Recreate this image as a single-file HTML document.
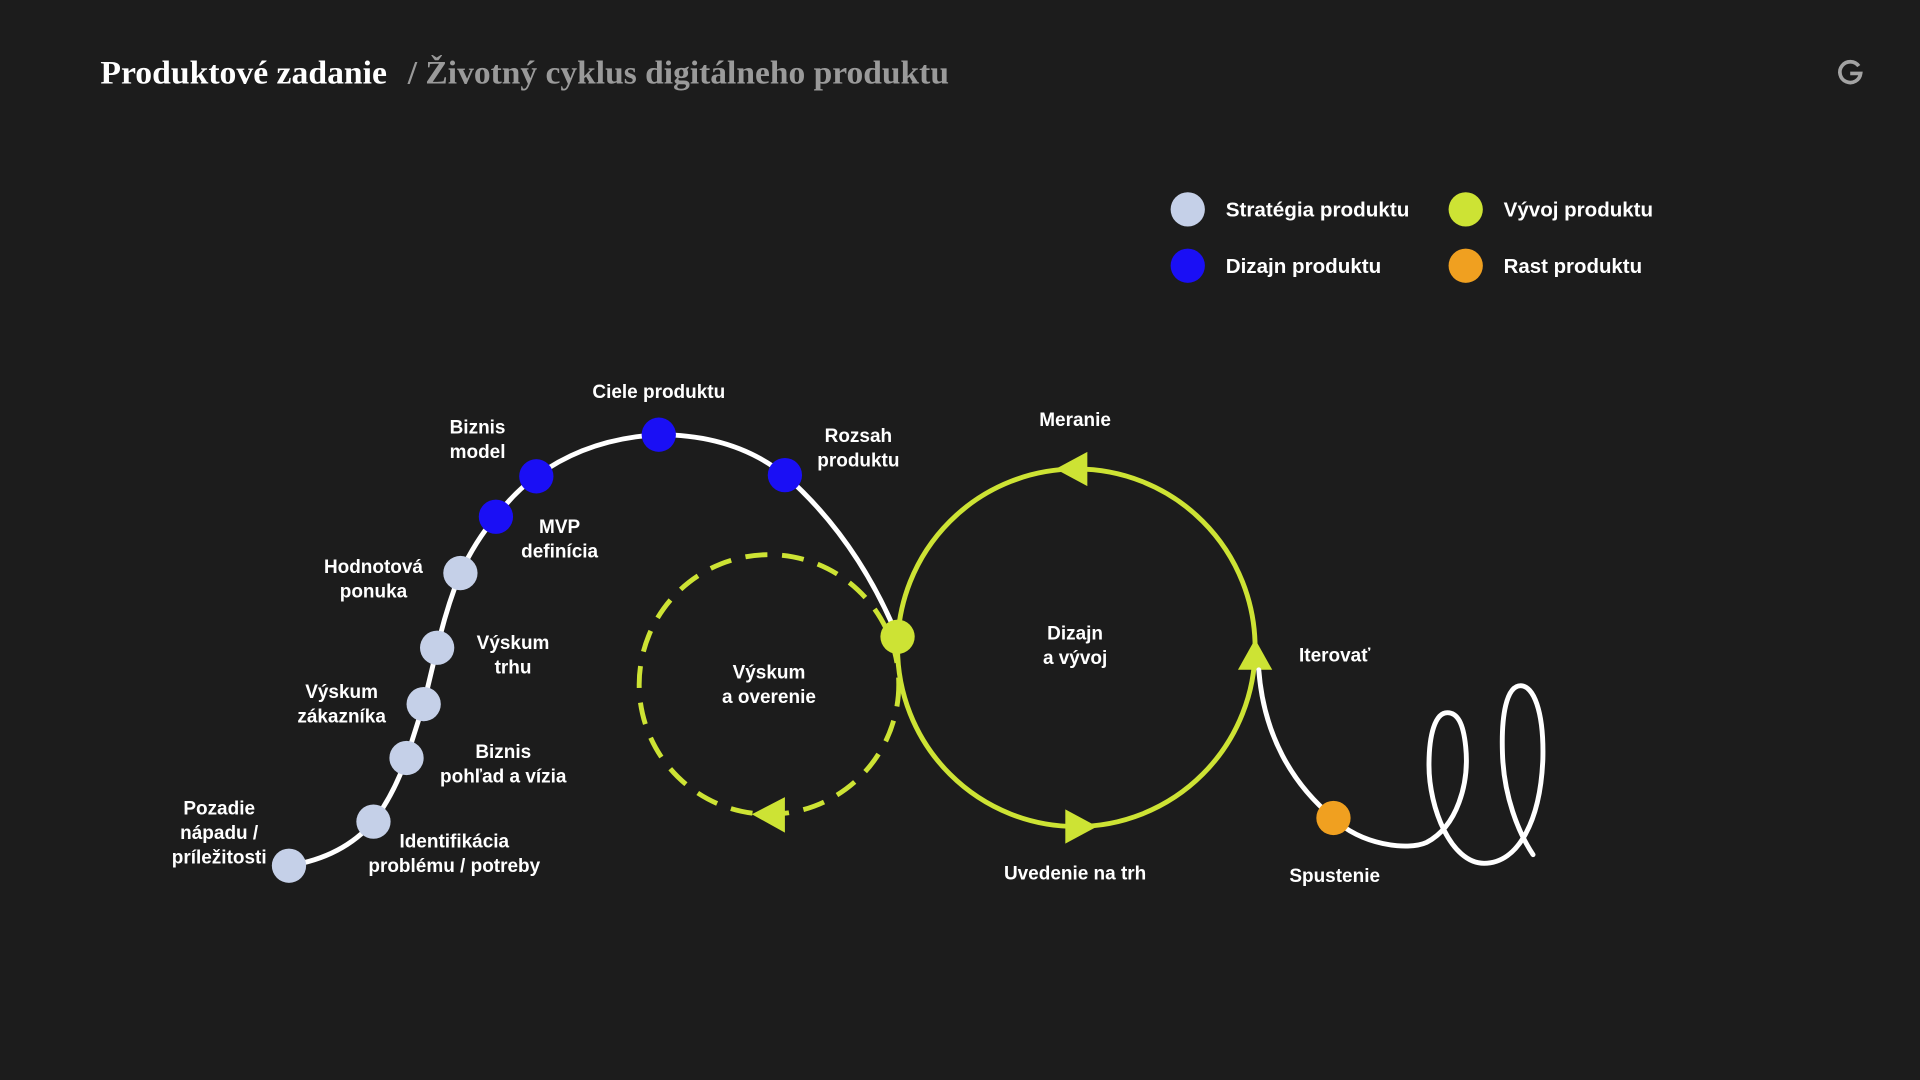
<!DOCTYPE html>
<html><head><meta charset="utf-8"><style>
html,body{margin:0;padding:0;background:#1c1c1c;}
svg{display:block;}
text{font-family:"Liberation Sans",sans-serif;font-weight:bold;fill:#fff;}
</style></head><body>
<svg width="1920" height="1080" viewBox="0 0 1568 882" xmlns="http://www.w3.org/2000/svg">
<rect width="1568" height="882" fill="#1c1c1c"/>
<text x="82" y="68" style="font-family:'Liberation Serif',serif;font-weight:bold;font-size:27px" textLength="234" lengthAdjust="spacingAndGlyphs">Produktové zadanie</text>
<text x="333" y="68" style="font-family:'Liberation Serif',serif;font-weight:bold;font-size:27px;fill:#9a9a9a" textLength="442" lengthAdjust="spacingAndGlyphs">/ Životný cyklus digitálneho produktu</text>
<path d="M1518,54 A8.5,8.5 0 1 0 1519.5,60 L1511,60" fill="none" stroke="#a3a3a3" stroke-width="3"/>

<g font-size="16.5">
<circle cx="970" cy="171" r="14" fill="#c5d0e8"/><text x="1001" y="177" textLength="150" lengthAdjust="spacingAndGlyphs">Stratégia produktu</text>
<circle cx="970" cy="217" r="14" fill="#1a0ff5"/><text x="1001" y="223" textLength="127" lengthAdjust="spacingAndGlyphs">Dizajn produktu</text>
<circle cx="1197" cy="171" r="14" fill="#cde334"/><text x="1228" y="177" textLength="122" lengthAdjust="spacingAndGlyphs">Vývoj produktu</text>
<circle cx="1197" cy="217" r="14" fill="#f0a020"/><text x="1228" y="223" textLength="113" lengthAdjust="spacingAndGlyphs">Rast produktu</text>
</g>

<path d="M236,707 Q280,700 305,671 Q322,648 332,619 L346,575 L357,529 Q365,495 376,468 Q388,442 405,422 Q420,402 438,389 Q480,358 538,355 Q600,355 641,388 Q700,440 733,520" fill="none" stroke="#fff" stroke-width="4" stroke-linecap="round"/>

<circle cx="628" cy="559" r="106" fill="none" stroke="#cde334" stroke-width="4" stroke-dasharray="18 12"/>
<polygon points="614,665 641,651 641,680" fill="#cde334"/>

<circle cx="879" cy="529" r="146" fill="none" stroke="#cde334" stroke-width="4"/>
<polygon points="862,383 888,369 888,397" fill="#cde334"/>
<polygon points="896,675 870,661 870,689" fill="#cde334"/>
<polygon points="1025,522 1011,547 1039,547" fill="#cde334"/>

<path d="M1028,547 C1032,600 1055,640 1089,668 C1110,690 1150,695 1165,688 C1190,675 1200,640 1197,610 C1195,590 1190,582 1182,582 C1172,582 1167,600 1167,625 C1167,660 1185,705 1212,705 C1240,705 1258,670 1260,620 C1261,580 1252,560 1242,560 C1230,560 1226,585 1227,615 C1228,650 1240,680 1252,698" fill="none" stroke="#fff" stroke-width="4" stroke-linecap="round"/>

<g fill="#c5d0e8">
<circle cx="236" cy="707" r="14"/><circle cx="305" cy="671" r="14"/><circle cx="332" cy="619" r="14"/>
<circle cx="346" cy="575" r="14"/><circle cx="357" cy="529" r="14"/><circle cx="376" cy="468" r="14"/>
</g>
<g fill="#1a0ff5">
<circle cx="405" cy="422" r="14"/><circle cx="438" cy="389" r="14"/><circle cx="538" cy="355" r="14"/><circle cx="641" cy="388" r="14"/>
</g>
<circle cx="733" cy="520" r="14" fill="#cde334"/>
<circle cx="1089" cy="668" r="14" fill="#f0a020"/>

<g font-size="15.5" text-anchor="middle" dominant-baseline="middle">
<text x="538" y="321">Ciele produktu</text>
<text x="390" y="350">Biznis</text><text x="390" y="370">model</text>
<text x="701" y="357">Rozsah</text><text x="701" y="377">produktu</text>
<text x="457" y="431">MVP</text><text x="457" y="451">definícia</text>
<text x="305" y="464">Hodnotová</text><text x="305" y="484">ponuka</text>
<text x="419" y="526">Výskum</text><text x="419" y="546">trhu</text>
<text x="279" y="566">Výskum</text><text x="279" y="586">zákazníka</text>
<text x="411" y="615">Biznis</text><text x="411" y="635">pohľad a vízia</text>
<text x="179" y="661">Pozadie</text><text x="179" y="681">nápadu /</text><text x="179" y="701">príležitosti</text>
<text x="371" y="688">Identifikácia</text><text x="371" y="708">problému / potreby</text>
<text x="628" y="550">Výskum</text><text x="628" y="570">a overenie</text>
<text x="878" y="518">Dizajn</text><text x="878" y="538">a vývoj</text>
<text x="878" y="344">Meranie</text>
<text x="1090" y="536">Iterovať</text>
<text x="878" y="714">Uvedenie na trh</text>
<text x="1090" y="716">Spustenie</text>
</g>
</svg>
</body></html>
